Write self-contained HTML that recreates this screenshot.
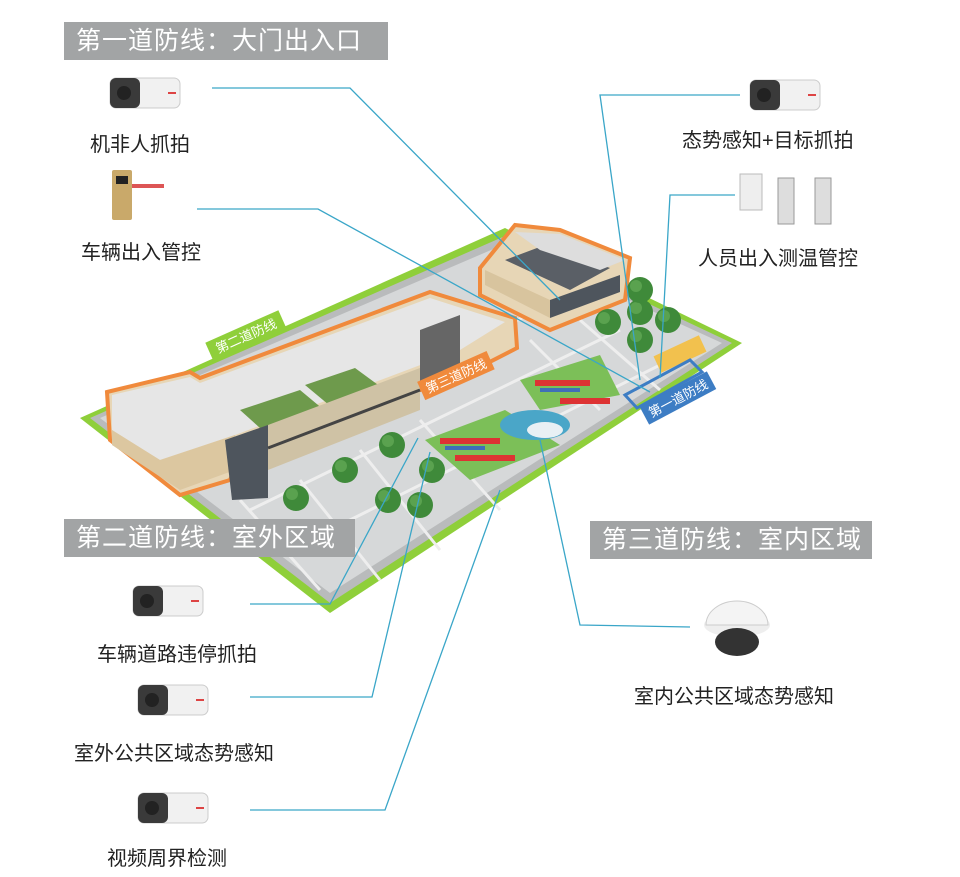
<!DOCTYPE html>
<html><head><meta charset="utf-8"><style>
html,body{margin:0;padding:0;background:#fff;}
body{width:960px;height:877px;position:relative;overflow:hidden;font-family:"Liberation Sans","Noto Sans CJK SC",sans-serif;}
.hd{position:absolute;background:#a2a4a5;color:#fff;font-size:25px;line-height:38px;padding:0 12px;letter-spacing:1px;white-space:nowrap;}
.lb{position:absolute;color:#222;font-size:20px;white-space:nowrap;}
svg{position:absolute;left:0;top:0;}
</style></head><body>
<svg width="960" height="877" viewBox="0 0 960 877">
<defs>
<g id="cam">
<rect x="0" y="0" width="70" height="30" rx="6" fill="#f1f1f1" stroke="#ccc"/>
<rect x="0" y="0" width="30" height="30" rx="6" fill="#3a3a3a"/>
<circle cx="14" cy="15" r="7" fill="#222"/>
<rect x="58" y="14" width="8" height="2" fill="#d44"/>
</g>
<g id="tree"><circle cx="0" cy="0" r="13" fill="#3f8a3a"/><circle cx="-4" cy="-4" r="6" fill="#5aa24f"/></g>
</defs>
<!-- ground -->
<polygon points="80,418 505,228 742,343 330,613" fill="#8fcf3a"/>
<polygon points="90,418 505,236 732,343 330,603" fill="#b9bbbc"/>
<polygon points="100,418 505,244 722,343 330,593" fill="#d6d8d9"/>
<!-- grid lines -->
<g stroke="#eeeeee" stroke-width="3">
<line x1="200" y1="470" x2="560" y2="300"/><line x1="250" y1="510" x2="620" y2="330"/><line x1="290" y1="550" x2="670" y2="360"/>
<line x1="240" y1="500" x2="320" y2="590"/><line x1="300" y1="480" x2="380" y2="580"/><line x1="360" y1="450" x2="440" y2="550"/><line x1="420" y1="420" x2="500" y2="510"/>
<line x1="530" y1="340" x2="600" y2="410"/><line x1="580" y1="320" x2="660" y2="390"/>
</g>
<!-- main building -->
<polygon points="107,392 190,372 200,378 430,292 515,318 517,348 470,372 240,455 230,480 180,495 110,440" fill="#e7d6b6" stroke="#f08a3c" stroke-width="4"/>
<polygon points="112,395 190,377 200,383 430,298 505,322 460,350 235,435 160,460 112,430" fill="#e6e6e6"/>
<polygon points="112,430 160,460 235,435 235,470 180,490 112,445" fill="#dcc7a0"/>
<polygon points="240,410 300,390 330,415 270,437" fill="#6e9a4c"/>
<polygon points="305,385 355,368 385,390 335,410" fill="#6e9a4c"/>
<polygon points="225,440 268,425 268,498 232,500" fill="#4e555d"/>
<polygon points="268,425 420,368 420,410 268,470" fill="#cfc2a5"/>
<line x1="268" y1="448" x2="420" y2="390" stroke="#444" stroke-width="3"/>
<polygon points="420,330 460,315 460,370 420,385" fill="#666"/>
<!-- right building -->
<polygon points="480,268 515,225 560,230 630,258 625,300 550,330 480,295" fill="#e7d6b6" stroke="#f08a3c" stroke-width="4"/>
<polygon points="505,260 545,245 610,268 570,290" fill="#5a5f66"/>
<polygon points="515,232 560,234 625,260 600,270 540,250" fill="#ddd"/>
<polygon points="485,285 550,318 550,300 485,270" fill="#d8c49e"/>
<polygon points="550,300 620,275 620,292 550,318" fill="#4e555d"/>
<!-- parking / green -->
<polygon points="425,440 505,410 560,445 470,480" fill="#7cbf58"/>
<polygon points="520,380 600,355 620,395 540,410" fill="#7cbf58"/>
<g fill="#d33"><rect x="440" y="438" width="60" height="6"/><rect x="455" y="455" width="60" height="6"/><rect x="535" y="380" width="55" height="6"/><rect x="560" y="398" width="50" height="6"/></g>
<g fill="#3f6fb8"><rect x="445" y="446" width="40" height="4"/><rect x="540" y="388" width="40" height="4"/></g>
<ellipse cx="535" cy="425" rx="35" ry="15" fill="#4aa6c8"/>
<ellipse cx="545" cy="430" rx="18" ry="8" fill="#e8f0f4"/>
<!-- trees -->
<use href="#tree" x="296" y="498"/><use href="#tree" x="345" y="470"/><use href="#tree" x="388" y="500"/><use href="#tree" x="392" y="445"/><use href="#tree" x="432" y="470"/><use href="#tree" x="420" y="505"/>
<use href="#tree" x="608" y="322"/><use href="#tree" x="640" y="312"/><use href="#tree" x="640" y="340"/><use href="#tree" x="668" y="320"/><use href="#tree" x="640" y="290"/>
<rect x="655" y="345" width="50" height="18" fill="#f2c14e" transform="rotate(-25 680 354)"/>
<!-- defense line tags -->
<g transform="rotate(-24 245 336)"><rect x="206" y="326" width="80" height="20" fill="#8fcf3a"/><text x="246" y="341" font-size="13" fill="#fff" text-anchor="middle" font-family="Liberation Sans,Noto Sans CJK SC,sans-serif">第二道防线</text></g>
<g transform="rotate(-24 455 376)"><rect x="418" y="366" width="76" height="20" fill="#f08a3c"/><text x="456" y="381" font-size="13" fill="#fff" text-anchor="middle" font-family="Liberation Sans,Noto Sans CJK SC,sans-serif">第三道防线</text></g>
<polygon points="625,395 690,360 702,372 637,408" fill="none" stroke="#3d7dc4" stroke-width="3"/>
<g transform="rotate(-28 678 398)"><rect x="640" y="388" width="76" height="20" fill="#3d7dc4"/><text x="678" y="403" font-size="13" fill="#fff" text-anchor="middle" font-family="Liberation Sans,Noto Sans CJK SC,sans-serif">第一道防线</text></g>
<!-- connector lines -->
<g stroke="#3aa6c8" stroke-width="1.3" fill="none">
<polyline points="212,88 350,88 560,300"/>
<polyline points="197,209 318,209 650,392"/>
<polyline points="740,95 600,95 640,380"/>
<polyline points="735,195 670,195 660,378"/>
<polyline points="250,604 330,604 418,438"/>
<polyline points="250,697 372,697 430,452"/>
<polyline points="250,810 385,810 500,490"/>
<polyline points="690,627 580,625 540,440"/>
</g>
<!-- icons -->
<use href="#cam" x="110" y="78"/>
<use href="#cam" x="750" y="80"/>
<use href="#cam" x="133" y="586"/>
<use href="#cam" x="138" y="685"/>
<use href="#cam" x="138" y="793"/>
<rect x="112" y="170" width="20" height="50" rx="2" fill="#c9a96a"/><rect x="116" y="176" width="12" height="8" fill="#222"/>
<rect x="132" y="184" width="32" height="4" fill="#d55"/>
<rect x="740" y="174" width="22" height="36" fill="#eee" stroke="#bbb"/>
<rect x="778" y="178" width="16" height="46" fill="#ddd" stroke="#999"/><rect x="815" y="178" width="16" height="46" fill="#ddd" stroke="#999"/>
<ellipse cx="737" cy="625" rx="33" ry="12" fill="#eee"/>
<path d="M706,625 a31,24 0 0 1 62,0 z" fill="#f4f4f4" stroke="#ccc"/>
<ellipse cx="737" cy="642" rx="22" ry="14" fill="#333"/>
</svg>
<div class="hd" style="left:64px;top:22px;width:300px;">第一道防线：大门出入口</div>
<div class="hd" style="left:64px;top:519px;width:267px;">第二道防线：室外区域</div>
<div class="hd" style="left:590px;top:521px;width:258px;">第三道防线：室内区域</div>
<div class="lb" style="left:90px;top:128px;">机非人抓拍</div>
<div class="lb" style="left:81px;top:236px;">车辆出入管控</div>
<div class="lb" style="left:682px;top:124px;">态势感知+目标抓拍</div>
<div class="lb" style="left:698px;top:242px;">人员出入测温管控</div>
<div class="lb" style="left:97px;top:638px;">车辆道路违停抓拍</div>
<div class="lb" style="left:74px;top:737px;">室外公共区域态势感知</div>
<div class="lb" style="left:107px;top:842px;">视频周界检测</div>
<div class="lb" style="left:634px;top:680px;">室内公共区域态势感知</div>
</body></html>
